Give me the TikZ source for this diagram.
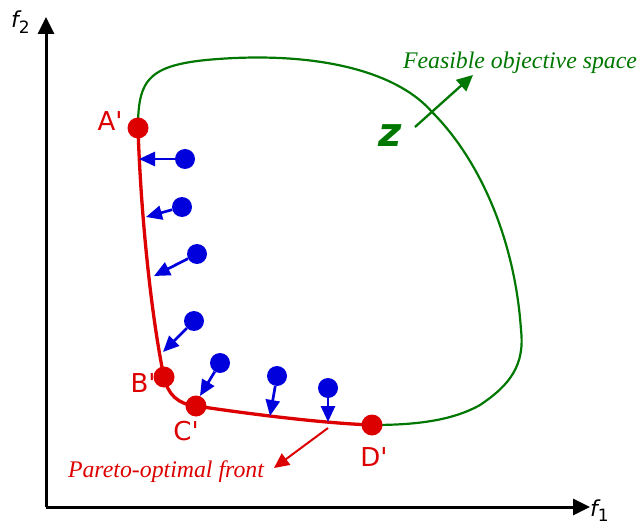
\documentclass[tikz,border=0pt]{standalone}
\usepackage{fontspec}
\setsansfont{DejaVu Sans}
\newfontfamily\noteserif{Liberation Serif}
\font\markfont="DejaVu Sans" at 26pt
\usetikzlibrary{arrows.meta,positioning}
\definecolor{ParetoRed}{HTML}{DD0000}
\definecolor{SpaceGreen}{HTML}{007700}
\definecolor{PointBlue}{HTML}{0000DD}

\begin{document}
\begin{tikzpicture}[x=1pt,y=-1pt,
    axis/.style={line width=3pt,-{Triangle[length=17pt,width=16pt]}},
    frontpoint/.style={circle,fill=ParetoRed,inner sep=0pt,minimum size=21pt},
    solpoint/.style={circle,fill=PointBlue,inner sep=0pt,minimum size=20pt},
    pointlabel/.style={anchor=base,inner sep=0pt,text=ParetoRed,font=\markfont},
    moveto/.style={PointBlue,line width=2.7pt,-{Triangle[length=16pt,width=14pt]}},
    note/.style={anchor=base,inner sep=0pt,font=\noteserif\itshape\fontsize{23.8}{27}\selectfont}]
    \useasboundingbox (0,0) rectangle (639,526);
    % axes
    \coordinate (O) at (46,507);
    \coordinate (ytop) at (46,17);
    \coordinate (xend) at (590,507);
    \draw[axis] (O) -- (ytop);
    \draw[axis] (O) -- (xend);
    \node[anchor=base west,inner sep=0pt] (f2) at (11,28)
      {\sffamily\itshape\fontsize{22}{26}\selectfont f\raisebox{-6pt}{\upshape\fontsize{17}{20}\selectfont 2}};
    \node[anchor=base west,inner sep=0pt] (f1) at (590,516)
      {\sffamily\itshape\fontsize{22}{26}\selectfont f\raisebox{-5pt}{\upshape\fontsize{17}{20}\selectfont 1}};
    % feasible objective space
    \coordinate (a) at (138,128);
    \coordinate (b) at (164,377);
    \coordinate (c) at (196,406);
    \coordinate (d) at (372,425);
    \draw[SpaceGreen, line width=2.2pt]
      (a) .. controls (138,75) and (150,62) .. (235,58)
      .. controls (330,54) and (400,75) .. (432,112)
      .. controls (480,160) and (515,240) .. (521,330)
      .. controls (525,365) and (510,385) .. (480,405)
      .. controls (450,422) and (410,425) .. (d);
    \draw[ParetoRed, line width=3.3pt]
      (a) .. controls (141,220) and (152,320) .. (b)
      .. controls (168,395) and (178,404) .. (c)
      .. controls (250,414) and (320,423) .. (d);
    \node[frontpoint] (A) at (a) {};
    \node[frontpoint] (B) at (b) {};
    \node[frontpoint] (C) at (c) {};
    \node[frontpoint] (D) at (d) {};
    \node[pointlabel] (Alab) at (110,131) {A'};
    \node[pointlabel] (Blab) at (143,392) {B'};
    \node[pointlabel] (Clab) at (186,440) {C'};
    \node[pointlabel] (Dlab) at (374,466) {D'};
    % solutions moving to the front
    \node[solpoint] (p1) at (185,159) {};
    \node[solpoint] (p2) at (182,207) {};
    \node[solpoint] (p3) at (197,254) {};
    \node[solpoint] (p4) at (194,321) {};
    \node[solpoint] (p5) at (220,363) {};
    \node[solpoint] (p6) at (277,376) {};
    \node[solpoint] (p7) at (328,388) {};
    \coordinate (t1) at (139,159);
    \coordinate (t2) at (146,217);
    \coordinate (t3) at (154,276);
    \coordinate (t4) at (163,352);
    \coordinate (t5) at (200,396);
    \coordinate (t6) at (270,416);
    \coordinate (t7) at (328,422);
    \foreach \i in {1,...,7}
      \draw[moveto] (p\i) -- (t\i);
    % labels
    \node[anchor=base,inner sep=0pt,text=SpaceGreen] (Z) at (390,147)
      {\sffamily\bfseries\itshape\fontsize{40}{44}\selectfont z};
    \coordinate (zs) at (415,127);
    \coordinate (ze) at (473,75);
    \draw[SpaceGreen, line width=2.3pt, -{Triangle[length=16pt,width=15pt]}] (zs) -- (ze);
    \node[note,text=SpaceGreen] (feas) at (520,69) {Feasible objective space};
    \coordinate (pf) at (328,428);
    \coordinate (pt) at (274,468);
    \draw[ParetoRed, line width=2pt, -{Triangle[length=15pt,width=14pt]}] (pf) -- (pt);
    \node[note,text=ParetoRed] (pareto) at (166,477) {Pareto-optimal front};
  \end{tikzpicture}
\end{document}
